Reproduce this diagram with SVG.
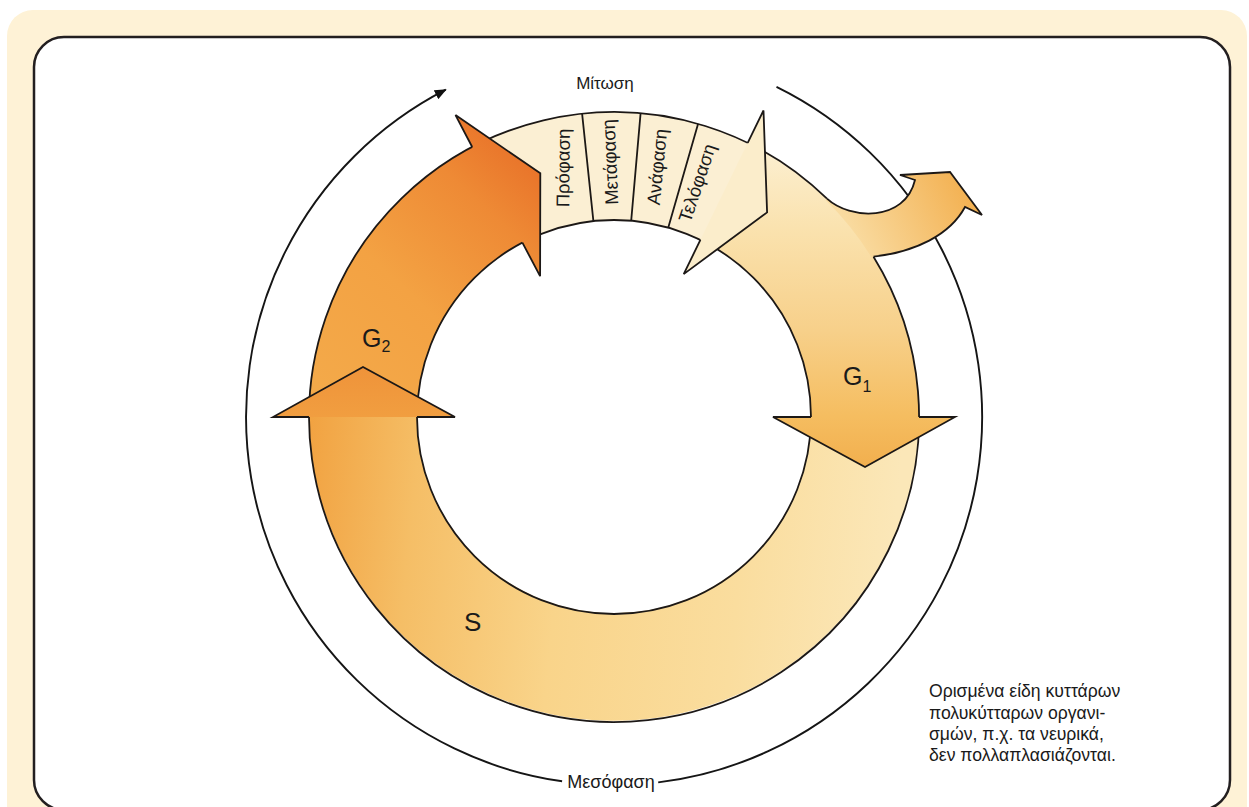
<svg xmlns="http://www.w3.org/2000/svg" width="1249" height="807" viewBox="0 0 1249 807">
<defs>
<style>
.edge{fill:none;stroke:#1c1816;stroke-width:1.8;stroke-linejoin:miter}
.thin{fill:none;stroke:#151515;stroke-width:1.9}
.lbl{font-family:"Liberation Sans",Arial,sans-serif;fill:#1a1a1a}
.ph{font-size:18.5px;text-anchor:middle;dominant-baseline:central}
.big{font-size:25px}
.sub{font-size:16px}
.note{font-size:17.6px}
</style>
<linearGradient id="gG1" gradientUnits="userSpaceOnUse" x1="0" y1="150" x2="0" y2="467">
<stop offset="0" stop-color="#FCEFD0"/>
<stop offset="0.25" stop-color="#FAE2AE"/>
<stop offset="0.57" stop-color="#F7D08A"/>
<stop offset="0.84" stop-color="#F5BD60"/>
<stop offset="1" stop-color="#F2AF4E"/>
</linearGradient>
<linearGradient id="gG0" gradientUnits="userSpaceOnUse" x1="850" y1="240" x2="965" y2="185">
<stop offset="0" stop-color="#F9DCA2"/>
<stop offset="1" stop-color="#F3B152"/>
</linearGradient>
<linearGradient id="gS" gradientUnits="userSpaceOnUse" x1="900" y1="480" x2="300" y2="420">
<stop offset="0" stop-color="#FBE7B8"/>
<stop offset="0.25" stop-color="#FADD9E"/>
<stop offset="0.55" stop-color="#F9D48A"/>
<stop offset="0.8" stop-color="#F5BE66"/>
<stop offset="1" stop-color="#F1A03E"/>
</linearGradient>
<linearGradient id="gSH" gradientUnits="userSpaceOnUse" x1="0" y1="367" x2="0" y2="417">
<stop offset="0" stop-color="#EF933A"/>
<stop offset="1" stop-color="#F19E40"/>
</linearGradient>
<linearGradient id="gG2" gradientUnits="userSpaceOnUse" x1="320" y1="410" x2="540" y2="170">
<stop offset="0" stop-color="#F3AA4A"/>
<stop offset="0.45" stop-color="#F3A243"/>
<stop offset="0.8" stop-color="#EE8A35"/>
<stop offset="1" stop-color="#E9742A"/>
</linearGradient>
<marker id="arr" viewBox="0 0 12 10" refX="11" refY="5" markerWidth="12" markerHeight="10" markerUnits="userSpaceOnUse" orient="auto">
<path d="M0,0 L12,5 L0,10 Z" fill="#111"/>
</marker>
</defs>

<g id="frame">
<rect x="7" y="10" width="1240" height="840" rx="26" fill="#FEF2D6"/>
<rect x="34" y="37" width="1196" height="773" rx="30" fill="#FFFFFF" stroke="#231f20" stroke-width="2.5"/>
</g>

<g id="connectors">
<path id="interphase-arc-left" class="thin" d="M562.1,781.3 A368,368 0 0 1 445.8,89.7" marker-end="url(#arr)"/>
<path id="interphase-arc-right" class="thin" d="M776.5,86.8 A368,368 0 0 1 658.2,782.4"/>
</g>

<g id="ring-fills">
<path id="band-mitosis" d="M474.6,145.7 A305,305 0 0 1 752.5,145.2 L703.4,241.5 A197,197 0 0 0 524.0,241.8 Z" fill="#FBEFD3"/>
<path id="band-g1" d="M750.1,144.1 A305,305 0 0 1 918.95,422.3 L810.97,420.4 A197,197 0 0 0 701.9,240.7 Z" fill="url(#gG1)"/>
<path id="band-s" d="M919,419.7 A305,305 0 1 1 309.05,411.7 L417.03,413.6 A197,197 0 1 0 811,418.7 Z" fill="url(#gS)"/>
<path id="band-g2" d="M309,414.3 A305,305 0 0 1 476.96,144.5 L525.5,241.0 A197,197 0 0 0 417,415.3 Z" fill="url(#gG2)"/>
</g>

<g id="ring-edges">
<path class="edge" d="M873.5,256.7 A305,305 0 1 1 827,198.7"/>
<circle cx="614" cy="417" r="197" class="edge"/>
<path class="edge" d="M582.1,113.7 L593.4,221.1 M640.6,113.2 L631.2,220.7 M698.1,123.8 L668.3,227.6"/>
</g>

<g id="node-mitosis">
<polygon points="763.5,110.5 767.1,212.4 683.7,274.1" fill="#FBEDCB"/>
<path class="edge" d="M700.4,239.9 L683.7,274.1 L767.1,212.4 L763.5,110.5 L747.7,142.9"/>
<text class="lbl" x="605" y="89" font-size="17" text-anchor="middle">Μίτωση</text>
<text class="lbl ph" transform="translate(563,168) rotate(-89.5)">Πρόφαση</text>
<text class="lbl ph" transform="translate(610,162) rotate(-92.5)">Μετάφαση</text>
<text class="lbl ph" transform="translate(657,167) rotate(-84.5)">Ανάφαση</text>
<text class="lbl ph" transform="translate(697,183) rotate(-71.5)">Τελόφαση</text>
</g>

<g id="node-g1">
<polygon points="955,417 865,467 773,417" fill="url(#gG1)"/>
<path class="edge" d="M811,417 L773,417 L865,467 L955,417 L919,417"/>
<text class="lbl big" x="843" y="385">G<tspan class="sub" dy="7">1</tspan></text>
</g>

<g id="node-s">
<polygon points="273,417 363,367 455,417" fill="url(#gSH)"/>
<path class="edge" d="M417,417 L455,417 L363,367 L273,417 L309,417"/>
<text class="lbl" x="464" y="631" font-size="26">S</text>
</g>

<g id="node-g2">
<polygon points="455.5,115.1 540.3,173.3 540.1,276.2" fill="url(#gG2)"/>
<path class="edge" d="M522.4,242.6 L540.1,276.2 L540.3,173.3 L455.5,115.1 L472.2,147.0"/>
<text class="lbl big" x="362" y="347">G<tspan class="sub" dy="5">2</tspan></text>
</g>

<g id="node-g0">
<path d="M827,198.7 C850,220 905,222 915,180 L900,175 L950,172 L982,215 L965,207 C950,235 915,252 873.5,256.7 L871.8,257.8 A303,303 0 0 0 825.6,200.1 Z" fill="url(#gG0)"/>
<path class="edge" d="M827,198.7 C850,220 905,222 915,180 L900,175 L950,172 L982,215 L965,207 C950,235 915,252 873.5,256.7"/>
</g>

<g id="label-interphase">
<text class="lbl" x="611" y="788" font-size="18" text-anchor="middle">Μεσόφαση</text>
</g>

<g id="note">
<text class="lbl note" x="929" y="697">Ορισμένα είδη κυττάρων</text>
<text class="lbl note" x="929" y="719">πολυκύτταρων οργανι-</text>
<text class="lbl note" x="929" y="740">σμών, π.χ. τα νευρικά,</text>
<text class="lbl note" x="929" y="761">δεν πολλαπλασιάζονται.</text>
</g>
</svg>
